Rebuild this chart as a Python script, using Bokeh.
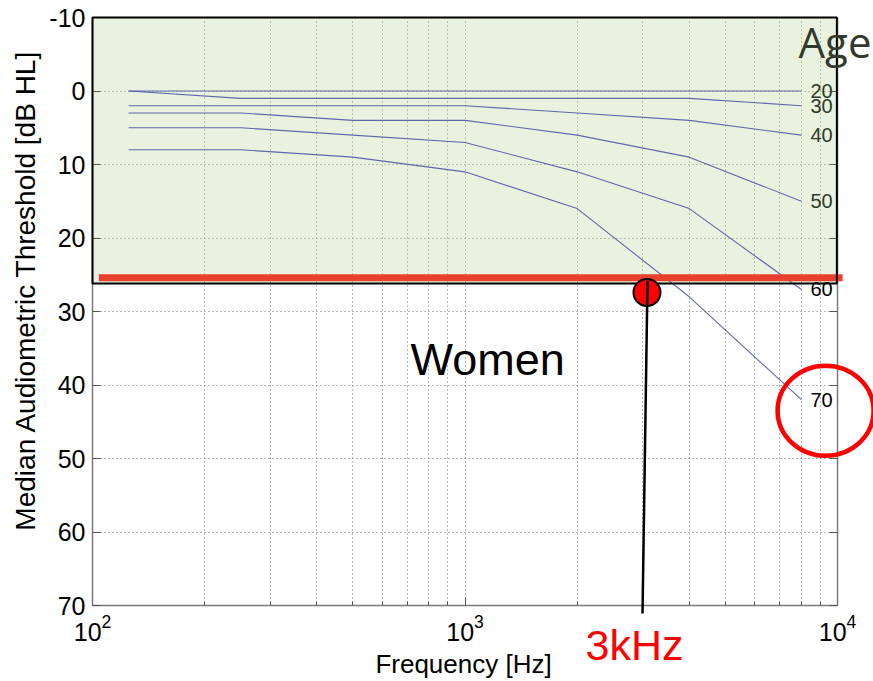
import math
from bokeh.plotting import figure
from bokeh.models import Range1d, FixedTicker, LinearAxis
from bokeh.core.properties import value
from bokeh.embed import file_html
from bokeh.resources import INLINE

# ---------------- data ----------------
freqs = [125, 250, 500, 1000, 2000, 4000, 8000]
age_20 = [0, 0, 0, 0, 0, 0, 0]
age_30 = [0, 1, 1, 1, 1, 1, 2]
age_40 = [2, 2, 2, 2, 3, 4, 6]
age_50 = [3, 3, 4, 4, 6, 9, 15]
age_60 = [5, 5, 6, 7, 11, 16, 27]
age_70 = [8, 8, 9, 11, 16, 28, 42]
series = [age_20, age_30, age_40, age_50, age_60, age_70]
age_labels = ["20", "30", "40", "50", "60", "70"]

x_ticks = [100, 1000, 10000]
x_minor = [200, 300, 400, 500, 600, 700, 800, 900,
           2000, 3000, 4000, 5000, 6000, 7000, 8000, 9000]
y_ticks = [-10, 0, 10, 20, 30, 40, 50, 60, 70]

normal_top = -10
normal_bottom = 26.2      # lower edge of shaded "normal" band
threshold = 25.4          # red threshold line
threshold_span = [104, 10320]
marker_freq = 3080        # 3 kHz crossing
marker_level = 27.4

FONT = "Liberation Sans"

p = figure(width=873, height=681, x_axis_type="log",
           x_range=Range1d(100, 10000), y_range=Range1d(70, -10),
           output_backend="svg", toolbar_location=None,
           min_border_left=92, min_border_right=36,
           min_border_top=17, min_border_bottom=76)
p.outline_line_color = None
p.background_fill_color = "white"

# axes
for ax in (p.xaxis[0], p.yaxis[0]):
    ax.axis_line_color = "#7a7a7a"
    ax.axis_line_width = 1.5
    ax.major_tick_line_color = "#555555"
    ax.minor_tick_line_color = "#555555"
    ax.major_tick_in = 8
    ax.major_tick_out = 0
    ax.minor_tick_in = 4
    ax.minor_tick_out = 0
    ax.major_label_text_font = FONT
    ax.major_label_text_font_size = "25px"
    ax.major_label_text_color = "black"

p.xaxis.ticker = FixedTicker(ticks=x_ticks, minor_ticks=x_minor)
p.yaxis.ticker = FixedTicker(ticks=y_ticks)
p.yaxis.major_label_overrides = {t: str(t) for t in y_ticks}
p.yaxis.minor_tick_line_color = None
p.yaxis.major_label_standoff = 7
p.xaxis.major_label_standoff = 8

right = LinearAxis(ticker=FixedTicker(ticks=y_ticks))
right.axis_line_color = "#7a7a7a"
right.axis_line_width = 1.5
right.major_tick_in = 8
right.major_tick_out = 0
right.major_tick_line_color = "#555555"
right.minor_tick_line_color = None
right.major_label_text_font_size = "0px"
right.major_label_text_color = None
p.add_layout(right, "right")

# grid
p.xgrid.ticker = FixedTicker(ticks=x_ticks, minor_ticks=x_minor)
p.ygrid.ticker = FixedTicker(ticks=y_ticks)
for g in (p.xgrid[0], p.ygrid[0]):
    g.grid_line_color = "#707070"
    g.grid_line_dash = "1 3"
    g.grid_line_width = 1
p.xgrid.minor_grid_line_color = "#707070"
p.xgrid.minor_grid_line_dash = "1 3"

# shaded normal band
p.quad(left=[x_ticks[0]], right=[x_ticks[-1]], top=[normal_top], bottom=[normal_bottom],
       fill_color="#b6d491", fill_alpha=0.3, line_color=None)

# age curves
for vals in series:
    p.line(freqs, vals, line_color="#5058a6", line_width=1.1, line_alpha=0.9)

# threshold red line
p.line(threshold_span, [threshold, threshold], line_color="#e8402c", line_width=7,
       level="overlay")

# band border
p.quad(left=[x_ticks[0]], right=[9960], top=[normal_top], bottom=[normal_bottom],
       fill_color=None, line_color="black", line_width=2, level="overlay")

# curve labels
label_x = 8460
label_colors = ["#2f3a28", "#2f3a28", "#2f3a28", "#2f3a28", "black", "black"]
p.text(x=[label_x] * len(series), y=[v[-1] for v in series], text=age_labels,
       text_color=label_colors, text_font=value(FONT), text_font_size=value("20px"),
       text_baseline="middle", level="overlay")


def txt(x, y, s, size, color="black", font=FONT, align="left", angle=0):
    p.text(x=[x], y=[y], text=[s], text_font=value(font), text_font_size=value(size),
           text_color=color, text_align=align, text_baseline="middle", angle=angle,
           level="overlay")


txt(7860, -6.7, "Age", "42px", color="#333a2d", font="Open Sans")
txt(714, 36.5, "Women", "45px")

# 3 kHz marker
p.scatter([marker_freq], [marker_level], size=27, fill_color="#ff0000",
          line_color="black", line_width=2, level="overlay")
p.line([3090, 2996], [25.8, 71.1], line_color="black", line_width=2.5, level="overlay")

txt(2106, 75.4, "3kHz", "43px", color="#ff0000")

# red ellipse around "70"
p.ellipse([9290], [43.5], width=96, height=90, width_units="screen",
          height_units="screen", fill_color=None, line_color="#ff0000",
          line_width=4.5, level="overlay")

# axis titles
txt(991, 78.0, "Frequency [Hz]", "26px", align="center")
txt(66, 27.1, "Median Audiometric Threshold [dB HL]", "28px", align="center",
    angle=math.pi / 2)

open("out.html", "w").write(file_html(p, INLINE))
